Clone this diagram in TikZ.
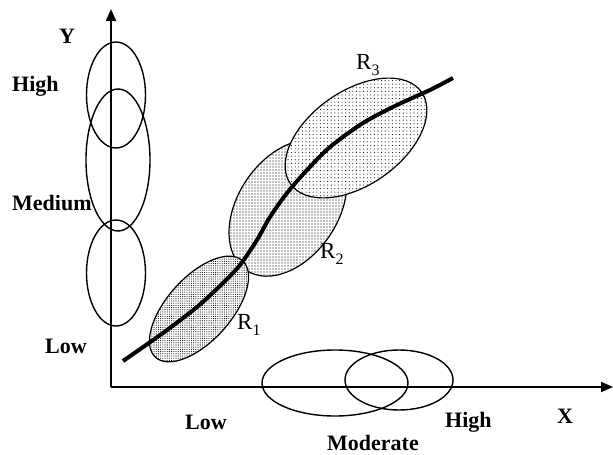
\documentclass[tikz,border=0pt]{standalone}
\usepackage{fontspec}
\setmainfont{Liberation Serif}
\usetikzlibrary{patterns.meta,arrows.meta}
\newcommand{\rsub}[1]{\raisebox{-0.28em}{\fontsize{16}{16}\selectfont #1}}
\begin{document}
\begin{tikzpicture}[x=1pt,y=-1pt,
  axis/.style={line width=2pt,-{Triangle[length=12pt,width=10pt]}},
  member/.style={line width=1.4pt},
  region/.style={line width=1.2pt,preaction={fill=white}},
  lab/.style={font=\fontsize{22}{26}\selectfont\bfseries,anchor=base west,inner sep=0pt},
  rlab/.style={font=\fontsize{23}{27}\selectfont,anchor=base west,inner sep=0pt}]
\useasboundingbox (0,0) rectangle (613,455);
% axes
\coordinate (O) at (111,387);
\coordinate (Ytip) at (111,9);
\coordinate (Xtip) at (613,387);
\draw[axis] (O) -- (Ytip);
\draw[axis] (O) -- (Xtip);
% membership ellipses on Y
\draw[member] (116,95) ellipse [x radius=29.5, y radius=53];
\draw[member] (118,160) ellipse [x radius=32, y radius=71];
\draw[member] (116,273) ellipse [x radius=29.5, y radius=53];
% membership ellipses on X
\draw[member] (335,383) ellipse [x radius=73, y radius=33];
\draw[member] (399,380) ellipse [x radius=54, y radius=30];
% regions
\draw[region,pattern={Dots[distance=3pt,radius=0.55pt]}]
  (288,208) ellipse [x radius=75, y radius=50, rotate=56];
\draw[region,pattern={Dots[distance=3.6pt,radius=0.55pt]}]
  (356,138) ellipse [x radius=80, y radius=47, rotate=35];
\draw[region,pattern={Dots[distance=2.2pt,radius=0.55pt]}]
  (199,309) ellipse [x radius=65, y radius=32, rotate=48];
% curve
\draw[line width=4pt] plot[smooth,tension=0.5] coordinates {(123,361) (163,333) (197,307) (223,283) (240,265) (257,240) (270,217) (287,193) (307,170) (330,147) (363,123) (397,105) (430,90) (453,78)};
% labels
\node[lab] (ylab) at (59,43) {Y};
\node[lab] (yhigh) at (12,91) {High};
\node[lab] (ymed) at (12,210) {Medium};
\node[lab] (ylow) at (45,353) {Low};
\node[lab] (xlow) at (185,429) {Low};
\node[lab] (xmod) at (327,450) {Moderate};
\node[lab] (xhigh) at (445,427) {High};
\node[lab] (xlab) at (557,423) {X};
\node[rlab] (r1) at (237,329) {R\rsub{1}};
\node[rlab] (r2) at (320,258) {R\rsub{2}};
\node[rlab] (r3) at (356,69) {R\rsub{3}};
\end{tikzpicture}
\end{document}
